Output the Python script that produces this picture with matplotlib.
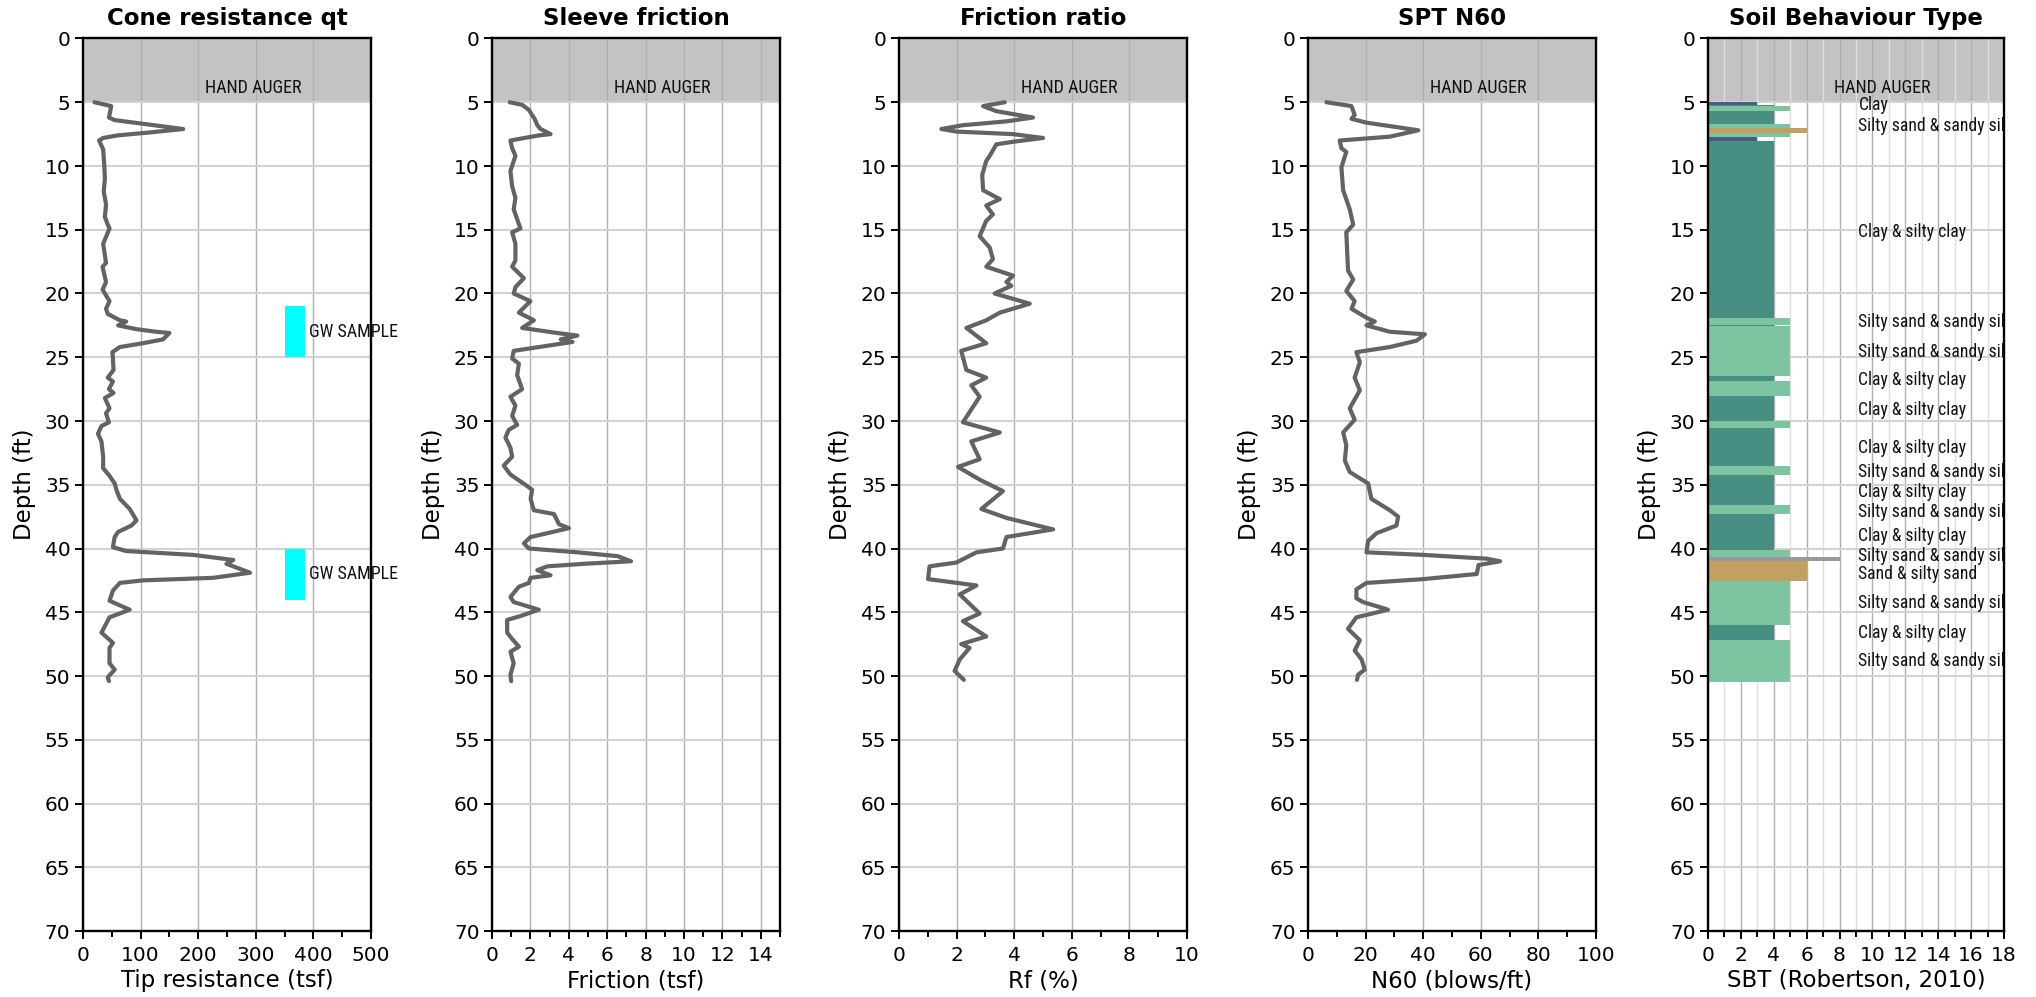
import matplotlib
matplotlib.use("Agg")
import matplotlib.pyplot as plt
from matplotlib.ticker import MultipleLocator
import matplotlib.transforms as mtransforms
from matplotlib import font_manager as fm

plt.rcParams['font.family'] = ['DejaVu Sans']

# ---------------- data ----------------
qt_depth = [5.0, 5.3, 6.2, 6.4, 7.1, 7.35, 7.6, 7.8, 8.0, 8.7, 10.0, 11.0, 12.0, 13.0, 14.0, 14.6, 14.9,
            16.1, 17.6, 17.9, 19.1, 19.7, 20.6, 21.2, 21.6, 22.1, 22.2, 22.5, 22.8, 23.0, 23.1, 23.6,
            23.9, 24.2, 24.6, 25.1, 26.0, 26.6, 26.9, 27.5, 27.8, 28.2, 29.0, 29.4, 30.1, 30.4, 31.0,
            31.6, 32.8, 33.7, 34.3, 34.9, 35.4, 36.1, 36.9, 37.8, 38.2, 38.7, 39.1, 39.9, 40.2, 40.5,
            40.9, 41.2, 41.9, 42.3, 42.5, 42.7, 43.3, 44.1, 44.8, 45.4, 46.6, 47.4, 47.8, 49.0, 49.5,
            50.1, 50.4]
qt_value = [20, 49, 45, 55, 174, 120, 60, 35, 28, 35, 37, 38, 36, 40, 38, 43, 46,
            35, 40, 34, 40, 34, 46, 40, 43, 64, 75, 61, 93, 127, 150, 139,
            104, 64, 51, 52, 53, 43, 52, 45, 53, 38, 46, 40, 45, 32, 26,
            32, 35, 35, 46, 55, 58, 64, 81, 93, 84, 61, 55, 52, 75, 191,
            261, 249, 290, 226, 104, 64, 52, 46, 81, 46, 32, 52, 46, 46, 55,
            43, 45]

fs_depth = [5.0, 5.2, 5.6, 6.0, 6.3, 6.8, 7.1, 7.5, 7.6, 8.0, 8.6, 9.2, 10.4, 11.6, 12.5, 13.4, 14.9,
            15.2, 16.1, 17.4, 17.9, 18.8, 19.5, 20.0, 20.6, 21.5, 22.1, 22.7, 23.1, 23.3, 23.6, 23.8,
            24.1, 24.5, 25.1, 25.5, 26.4, 27.5, 28.1, 28.8, 29.6, 30.3, 30.7, 31.3, 32.1, 32.8, 33.5,
            34.2, 35.1, 35.4, 36.1, 37.0, 37.3, 38.1, 38.4, 38.8, 39.1, 39.6, 40.0, 40.3, 40.6, 41.0,
            41.2, 41.4, 41.7, 42.1, 42.3, 42.7, 43.0, 43.8, 44.2, 44.8, 45.3, 45.6, 46.6, 47.1, 47.7,
            48.1, 49.0, 49.9, 50.4]
fs_value = [0.92, 1.57, 1.92, 2.09, 2.22, 2.36, 2.53, 3.05, 2.44, 0.96, 1.05, 1.22, 0.96, 1.05, 1.22, 1.13, 1.48,
            1.05, 1.22, 1.22, 1.05, 1.66, 1.22, 1.13, 2.0, 1.40, 2.18, 1.57, 3.4, 4.45, 3.58, 4.19,
            2.88, 1.13, 1.05, 1.40, 1.31, 1.57, 0.96, 1.22, 1.05, 1.31, 0.87, 0.70, 0.96, 1.05, 0.61,
            0.96, 1.83, 2.09, 2.01, 2.18, 3.23, 3.49, 4.01, 2.88, 2.01, 1.66, 1.92, 4.45, 6.54, 7.24,
            4.80, 2.88, 2.36, 3.05, 2.01, 1.92, 1.40, 0.96, 1.13, 2.44, 1.48, 0.79, 0.79, 1.05, 1.40,
            0.96, 1.13, 0.96, 1.0]

rf_depth = [5.0, 5.3, 5.7, 6.2, 6.5, 6.8, 7.1, 7.3, 7.5, 7.8, 8.1, 8.3, 9.2, 9.6, 10.7, 11.9, 12.6,
            13.1, 13.8, 14.3, 15.5, 16.4, 17.3, 17.9, 18.6, 19.1, 19.4, 20.0, 20.8, 21.5, 22.1, 22.7,
            23.9, 24.5, 26.0, 26.6, 27.2, 28.1, 30.1, 30.9, 31.6, 33.0, 33.6, 34.6, 35.5, 36.9, 37.6,
            38.5, 39.1, 40.0, 40.3, 41.1, 41.4, 42.4, 42.9, 43.6, 45.1, 45.7, 46.9, 47.5, 47.8, 48.7,
            49.6, 50.1, 50.3]
rf_value = [3.67, 2.92, 3.38, 4.65, 3.73, 2.22, 1.47, 1.99, 3.96, 5.0, 3.96, 3.38, 3.15, 3.03, 2.89, 2.92, 3.50,
            3.03, 3.26, 3.03, 2.80, 3.15, 3.26, 3.03, 3.96, 3.73, 3.90, 3.32, 4.54, 3.50, 3.03, 2.34,
            3.03, 2.16, 2.34, 3.03, 2.51, 2.80, 2.22, 3.50, 2.51, 2.80, 2.05, 2.80, 3.61, 2.86, 3.73,
            5.35, 3.73, 3.61, 2.69, 1.99, 1.06, 1.01, 2.69, 2.11, 2.80, 2.22, 3.03, 2.16, 2.45, 2.11,
            1.93, 2.16, 2.25]

n60_depth = [5.0, 5.3, 6.0, 6.3, 6.6, 7.2, 7.7, 8.0, 8.6, 8.9, 10.1, 11.9, 13.4, 14.6, 15.2, 18.2, 18.9,
             19.8, 20.6, 21.2, 21.9, 22.2, 22.5, 23.0, 23.2, 23.7, 24.2, 24.6, 25.4, 26.6, 27.6, 29.0,
             29.9, 30.9, 31.9, 33.1, 34.0, 34.9, 36.1, 37.0, 37.5, 38.2, 38.8, 39.4, 40.3, 40.5, 40.8,
             41.0, 41.3, 42.0, 42.4, 42.7, 43.2, 43.9, 44.2, 44.8, 45.4, 46.3, 47.2, 48.0, 48.7, 49.5,
             49.9, 50.3]
n60_value = [6.4, 15.1, 16.2, 15.1, 20.3, 38.3, 28.4, 11.0, 11.6, 13.3, 11.6, 12.2, 14.5, 15.7, 13.3, 13.9, 15.7,
             13.3, 16.2, 15.1, 20.3, 23.2, 20.3, 28.4, 40.6, 37.7, 28.4, 16.8, 18.0, 16.2, 18.0, 14.5,
             16.2, 12.2, 13.3, 12.8, 14.5, 20.9, 22.0, 28.4, 31.3, 30.7, 23.8, 20.9, 20.3, 40.0, 62.1,
             66.7, 59.2, 58.6, 40.0, 20.3, 16.8, 16.8, 19.1, 27.8, 16.8, 13.9, 18.0, 16.2, 18.6, 19.7,
             17.4, 17.0]

# SBT layers: top, bottom, plotted SBT value, class
sbt_top = [5.0, 5.2, 5.3, 5.67, 6.72, 7.0, 7.44, 7.7, 7.75, 8.06, 21.93, 22.45, 22.52, 26.5, 26.9,
           28.07, 30.03, 30.57, 33.5, 34.25, 36.56, 37.29, 40.13, 40.65, 40.96, 42.53, 46.0, 47.2]
sbt_bottom = [5.2, 5.3, 5.67, 6.72, 7.0, 7.44, 7.7, 7.75, 8.06, 21.93, 22.45, 22.52, 26.5, 26.9, 28.07,
              30.03, 30.57, 33.5, 34.25, 36.56, 37.29, 40.13, 40.65, 40.96, 42.53, 46.0, 47.2, 50.47]
sbt_value = [3, 4, 5, 4, 5, 6, 5, 4, 3, 4, 5, 4, 5, 4, 5, 4, 5, 4, 5, 4, 5, 4, 5, 8, 6, 5, 4, 5]
sbt_class = ["clay", "cl_si", "si_sa", "cl_si", "si_sa", "sand", "si_sa", "cl_si", "clay", "cl_si",
             "si_sa", "cl_si", "si_sa", "cl_si", "si_sa", "cl_si", "si_sa", "cl_si", "si_sa", "cl_si",
             "si_sa", "cl_si", "si_sa", "grav", "sand", "si_sa", "cl_si", "si_sa"]
sbt_colors = {"clay": "#4b5a80", "cl_si": "#468f82", "si_sa": "#7cc5a0", "sand": "#c2a062",
              "grav": "#999999"}

sbt_label_text = ["Clay", "Silty sand & sandy silt", "Clay & silty clay", "Silty sand & sandy silt",
                  "Silty sand & sandy silt", "Clay & silty clay", "Clay & silty clay", "Clay & silty clay",
                  "Silty sand & sandy silt", "Clay & silty clay", "Silty sand & sandy silt",
                  "Clay & silty clay", "Silty sand & sandy silt", "Sand & silty sand",
                  "Silty sand & sandy silt", "Clay & silty clay", "Silty sand & sandy silt"]
sbt_label_depth = [5.2, 6.9, 15.2, 22.2, 24.6, 26.8, 29.1, 32.1, 34.0, 35.6, 37.1, 39.0, 40.6, 42.0,
                   44.3, 46.6, 48.8]

gw_top = [21.0, 40.0]
gw_bottom = [25.0, 44.0]
gw_x = [350, 385]

hand_auger = [0, 5]

titles = ["Cone resistance qt", "Sleeve friction", "Friction ratio", "SPT N60", "Soil Behaviour Type"]
xlabels = ["Tip resistance (tsf)", "Friction (tsf)", "Rf (%)", "N60 (blows/ft)", "SBT (Robertson, 2010)"]
xlims = [(0, 500), (0, 15), (0, 10), (0, 100), (0, 18)]
xmajor = [100, 2, 2, 20, 2]
xminor = [50, 1, 1, 10, 1]
depth_lim = (0, 70)


# ---------------- narrow font lookup ----------------
def find_narrow_font():
    prefs = ['liberation sans narrow', 'arial narrow', 'roboto condensed', 'open sans condensed',
             'noto sans condensed', 'dejavu sans condensed', 'condensed', 'narrow']
    best, best_rank = None, len(prefs) + 1
    for f in fm.fontManager.ttflist:
        key = (f.name + ' ' + f.fname.split('/')[-1]).lower()
        low = f.fname.lower()
        if any(w in low for w in ('bold', 'italic', 'oblique', 'light', 'thin', 'black', 'medium',
                                   'semibold', 'extra')):
            continue
        cond = ('narrow' in key or 'condensed' in key or
                str(f.stretch) in ('condensed', 'semi-condensed', 'extra-condensed'))
        if not cond:
            continue
        for r, p in enumerate(prefs):
            if p in key or (p == 'condensed' and 'condensed' in str(f.stretch)):
                if r < best_rank:
                    best, best_rank = f.fname, r
                break
    return best


narrow_path = find_narrow_font()
if narrow_path:
    def nfp(size):
        return fm.FontProperties(fname=narrow_path, size=size)
    nscale = 1.0
else:
    def nfp(size):
        return fm.FontProperties(family='Liberation Sans', size=size)
    nscale = 0.86

# ---------------- figure ----------------
W, H = 2036, 997
fig = plt.figure(figsize=(W / 100, H / 100), dpi=100)
lefts = [83, 492, 899, 1308, 1708]
widths = [288, 288, 288, 288, 296]
top_px, bot_px = 38.5, 931

line_color = '#636363'

curves = [(qt_value, qt_depth), (fs_value, fs_depth), (rf_value, rf_depth), (n60_value, n60_depth), None]

for i in range(5):
    ax = fig.add_axes([lefts[i] / W, 1 - bot_px / H, widths[i] / W, (bot_px - top_px) / H])
    ax.set_xlim(*xlims[i])
    ax.set_ylim(depth_lim[1], depth_lim[0])
    ax.yaxis.set_major_locator(MultipleLocator(5))
    ax.xaxis.set_major_locator(MultipleLocator(xmajor[i]))
    ax.xaxis.set_minor_locator(MultipleLocator(xminor[i]))
    ax.set_axisbelow(True)
    ax.grid(True, axis='x', which='major', color='#b0b0b0', lw=1.0)
    ax.grid(True, axis='y', which='major', color='#d2d2d2', lw=1.5)
    if i == 4:
        ax.grid(True, axis='x', which='minor', color='#dedede', lw=1.0)
    for s in ax.spines.values():
        s.set_linewidth(1.7)
        s.set_color('black')
    ax.tick_params(axis='both', which='major', direction='out', length=6, width=1.4,
                   labelsize=14.5, color='black')
    ax.tick_params(axis='y', which='major', pad=3)
    ax.tick_params(axis='x', which='major', pad=5)
    ax.tick_params(axis='x', which='minor', direction='out', length=4, width=1.4)
    ax.set_title(titles[i], fontsize=16.5, fontweight='bold', pad=9.5)
    ax.set_xlabel(xlabels[i], fontsize=16.5, labelpad=3)
    ax.set_ylabel("Depth (ft)", fontsize=16.5, labelpad=6)

    # hand auger band
    ax.axhspan(hand_auger[0], hand_auger[1], color='#c3c3c3', zorder=0.5, lw=0)
    trans = mtransforms.blended_transform_factory(ax.transAxes, ax.transData)
    ax.text(0.59, 3.9, "HAND AUGER", transform=trans, ha='center', va='center',
            fontproperties=nfp(13 * nscale), color='#111111')

    if curves[i] is not None:
        xv, yv = curves[i]
        ax.plot(xv, yv, color=line_color, lw=3.0, solid_joinstyle='round',
                solid_capstyle='round', zorder=3)

    if i == 0:
        for t, b in zip(gw_top, gw_bottom):
            ax.bar(gw_x[0], b - t, width=gw_x[1] - gw_x[0], bottom=t, align='edge',
                   color='#00ffff', lw=0, zorder=2)
            ax.text(gw_x[1] + 7, (t + b) / 2, "GW SAMPLE", ha='left', va='center',
                    fontproperties=nfp(13 * nscale), color='#111111', clip_on=False, zorder=4)

    if i == 4:
        for t, b, v, c in zip(sbt_top, sbt_bottom, sbt_value, sbt_class):
            ax.barh(t, v, height=b - t, left=0, align='edge', color=sbt_colors[c], lw=0, zorder=2)
        for txt, d in zip(sbt_label_text, sbt_label_depth):
            ax.text(9.15, d, txt, ha='left', va='center', fontproperties=nfp(12.7 * nscale),
                    color='#111111', clip_on=True, zorder=4)

fig.savefig("out.png", dpi=100)
